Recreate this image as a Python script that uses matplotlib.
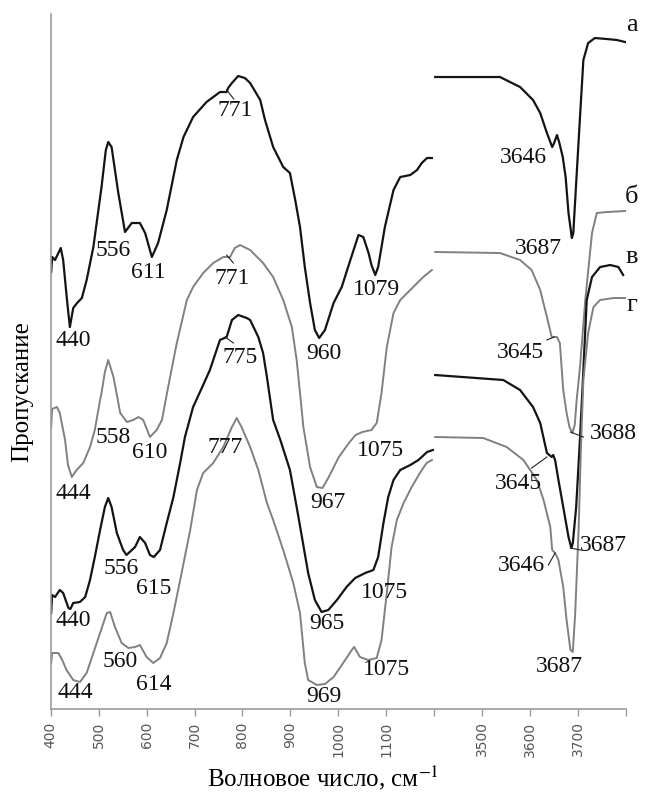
import matplotlib

matplotlib.use("Agg")
import matplotlib.pyplot as plt
import numpy as np

# IR transmission spectra of four samples (a..g), two ranges joined on one axis:
# 400-1200 cm^-1 and 3400-3800 cm^-1. Transmittance in arbitrary units, offset per curve.

# --- sample a (black) ---
A_LOW_WN = [401, 403, 409, 421, 426, 434, 440, 447, 455, 465, 475, 489, 506, 515, 520, 527,
            541, 555, 569, 586, 597, 611, 624, 642, 663, 677, 697, 725, 753, 767, 770, 778,
            791, 805, 816, 837, 847, 864, 885, 899, 910, 920, 930, 941, 951, 960, 972, 990,
            1007, 1025, 1042, 1052, 1063, 1069, 1077, 1083, 1097, 1115, 1129, 1150, 1164,
            1174, 1185, 1195]
A_LOW_T = [437, 452, 449, 461, 449, 409, 382, 401, 406, 411, 429, 462, 522, 559, 567, 562,
           516, 477, 486, 486, 476, 452, 466, 499, 549, 572, 592, 607, 617, 617, 621, 626,
           633, 631, 626, 609, 589, 562, 542, 536, 509, 482, 442, 406, 379, 371, 379, 406,
           422, 449, 474, 472, 456, 444, 434, 442, 482, 519, 532, 534, 539, 546, 551, 551]
A_HIGH_WN = [3402, 3537, 3579, 3606, 3621, 3635, 3646, 3650, 3656, 3661, 3668, 3674, 3680,
             3687, 3690, 3696, 3704, 3711, 3721, 3735, 3760, 3781, 3798]
A_HIGH_T = [632, 632, 622, 609, 596, 576, 562, 566, 574, 566, 552, 532, 496, 471, 476, 526,
            592, 649, 666, 671, 670, 669, 667]

# --- sample b (grey) ---
B_LOW_WN = [401, 403, 413, 419, 430, 436, 444, 454, 468, 482, 492, 503, 506, 513, 520, 531,
            545, 559, 572, 583, 593, 607, 621, 632, 645, 663, 684, 697, 718, 739, 760, 774,
            784, 795, 816, 843, 864, 885, 903, 913, 920, 927, 941, 955, 967, 980, 1001, 1022,
            1036, 1050, 1069, 1080, 1090, 1101, 1115, 1129, 1150, 1177, 1195]
B_LOW_T = [282, 300, 302, 296, 269, 244, 232, 239, 246, 262, 279, 309, 316, 337, 349, 332,
           296, 287, 289, 292, 289, 272, 279, 289, 322, 366, 409, 422, 436, 446, 452, 452,
           461, 464, 459, 446, 432, 409, 382, 349, 316, 282, 242, 222, 221, 232, 252, 266,
           274, 277, 279, 286, 316, 362, 396, 409, 419, 432, 439]
B_HIGH_WN = [3402, 3537, 3579, 3603, 3621, 3635, 3645, 3656, 3662, 3669, 3676, 3682, 3688,
             3693, 3697, 3704, 3715, 3729, 3739, 3760, 3798]
B_HIGH_T = [457, 456, 449, 439, 419, 392, 372, 372, 366, 319, 296, 282, 276, 284, 309, 342,
            409, 476, 496, 497, 498]

# --- sample v (black) ---
V_LOW_WN = [401, 403, 409, 419, 426, 437, 441, 447, 461, 472, 482, 492, 503, 513, 520, 527,
            538, 551, 558, 576, 586, 597, 607, 615, 628, 642, 656, 670, 680, 697, 718, 732,
            753, 767, 778, 791, 809, 816, 833, 843, 851, 857, 864, 879, 899, 913, 924, 937,
            951, 965, 979, 997, 1017, 1035, 1056, 1073, 1083, 1094, 1104, 1115, 1129, 1150,
            1167, 1185, 1197]
V_LOW_T = [96, 114, 112, 119, 116, 101, 100, 106, 107, 112, 129, 152, 179, 202, 211, 202,
           176, 159, 154, 162, 172, 166, 154, 152, 159, 186, 212, 246, 272, 302, 324, 339,
           369, 372, 389, 394, 391, 389, 372, 356, 332, 312, 289, 269, 239, 202, 172, 136,
           109, 97, 99, 109, 122, 131, 136, 139, 152, 186, 212, 229, 239, 244, 249, 257, 259]
V_HIGH_WN = [3402, 3544, 3579, 3606, 3621, 3635, 3645, 3648, 3652, 3659, 3669, 3680, 3686,
             3689, 3696, 3703, 3708, 3718, 3729, 3746, 3767, 3784, 3794]
V_HIGH_T = [334, 329, 319, 302, 286, 256, 252, 254, 249, 229, 202, 172, 161, 166, 202, 262,
            309, 409, 432, 442, 444, 442, 434]

# --- sample g (grey) ---
G_LOW_WN = [401, 403, 416, 424, 433, 447, 461, 475, 489, 503, 517, 524, 534, 548, 562, 576,
            586, 600, 614, 628, 642, 656, 673, 691, 705, 718, 739, 760, 778, 788, 798, 816,
            833, 851, 864, 885, 906, 920, 930, 937, 955, 972, 990, 1010, 1028, 1033, 1045,
            1062, 1080, 1090, 1101, 1111, 1122, 1136, 1153, 1170, 1184, 1195]
G_LOW_T = [46, 56, 56, 49, 39, 29, 27, 36, 56, 76, 96, 97, 82, 66, 61, 62, 64, 52, 46, 51,
           66, 96, 136, 179, 219, 236, 246, 262, 282, 291, 282, 262, 239, 206, 189, 159, 126,
           96, 46, 29, 24, 25, 32, 46, 59, 62, 52, 49, 51, 69, 116, 162, 189, 206, 222, 236,
           246, 249]
G_HIGH_WN = [3402, 3502, 3551, 3586, 3614, 3628, 3642, 3646, 3652, 3659, 3669, 3676, 3684,
             3689, 3694, 3701, 3706, 3711, 3721, 3732, 3746, 3774, 3798]
G_HIGH_T = [272, 271, 262, 249, 229, 209, 182, 159, 156, 149, 122, 89, 59, 57, 96, 179, 262,
            329, 376, 402, 409, 411, 411]

# peak positions written next to each curve, cm^-1
A_PEAKS = ["440", "556", "611", "771", "960", "1079", "3646", "3687"]
B_PEAKS = ["444", "558", "610", "771", "967", "1075", "3645", "3688"]
V_PEAKS = ["440", "556", "615", "775", "965", "1075", "3645", "3687"]
G_PEAKS = ["444", "560", "614", "777", "969", "1075", "3646", "3687"]
CURVE_NAMES = ["а", "б", "в", "г"]

TICK_POS = [400, 500, 600, 700, 800, 900, 1000, 1100, 1200, 1300, 1400, 1500, 1600]
TICK_TEXT = ["400", "500", "600", "700", "800", "900", "1000", "1100", "",
             "3500", "3600", "3700", ""]

BREAK_LO, BREAK_HI = 1200, 3400
BLACK, GREY = "#141414", "#808080"
SERIF = "Liberation Serif"


def to_axis(wn):
    """Map wavenumber to the joined axis: 3400..3800 is drawn right after 1200."""
    wn = np.asarray(wn, dtype=float)
    return np.where(wn > BREAK_LO, wn - (BREAK_HI - BREAK_LO), wn)


plt.rcParams["mathtext.fontset"] = "stix"
fig = plt.figure(figsize=(6.45, 7.92), dpi=100)
ax = fig.add_axes([0.0786, 0.1048, 0.892, 0.8775])

curves = [
    (A_LOW_WN, A_LOW_T, A_HIGH_WN, A_HIGH_T, BLACK, 1.6),
    (B_LOW_WN, B_LOW_T, B_HIGH_WN, B_HIGH_T, GREY, 1.4),
    (V_LOW_WN, V_LOW_T, V_HIGH_WN, V_HIGH_T, BLACK, 1.6),
    (G_LOW_WN, G_LOW_T, G_HIGH_WN, G_HIGH_T, GREY, 1.4),
]
for lo_wn, lo_t, hi_wn, hi_t, color, lw in curves:
    ax.plot(to_axis(lo_wn), lo_t, color=color, lw=lw, solid_joinstyle="round")
    ax.plot(to_axis(hi_wn), hi_t, color=color, lw=lw, solid_joinstyle="round")

# label anchors (axis x, transmittance) for the eight peaks of each curve
label_xy = [
    [(447, 369), (531, 459), (604, 437), (784, 599), (969, 356), (1080, 420),
     (1386, 552), (1417, 461)],
    [(447, 216), (531, 272), (607, 257), (778, 431), (979, 207), (1087, 259),
     (1379, 357), (1574, 276)],
    [(447, 89), (548, 141), (614, 121), (795, 352), (976, 86), (1097, 117),
     (1375, 226), (1553, 164)],
    [(451, 16), (545, 47), (614, 24), (764, 262), (969, 12), (1101, 39),
     (1382, 144), (1462, 42)],
]
for peaks, spots in zip([A_PEAKS, B_PEAKS, V_PEAKS, G_PEAKS], label_xy):
    for txt, (x, y) in zip(peaks, spots):
        ax.text(x, y, txt, ha="center", va="center", fontsize=17, family=SERIF,
                color="#111111")

# short leader strokes from a shoulder to its label
leaders = [
    ((767, 619), (782, 610)),
    ((767, 454), (781, 446)),
    ((764, 372), (781, 366)),
    ((1435, 369), (1450, 372)),
    ((1484, 277), (1511, 272)),
    ((1403, 241), (1435, 252)),
    ((1484, 161), (1505, 159)),
    ((1438, 144), (1452, 156)),
]
for (x0, y0), (x1, y1) in leaders:
    ax.plot([x0, x1], [y0, y1], color="#222222", lw=0.8)

for name, y in zip(CURVE_NAMES, [684, 512, 452, 404]):
    ax.text(1612, y, name, ha="center", va="center", fontsize=19, family=SERIF,
            color="#111111", clip_on=False)

ax.set_xlim(400, 1600)
ax.set_ylim(0, 695)
ax.set_xticks(TICK_POS)
ax.set_xticklabels(TICK_TEXT, rotation=90, fontsize=10, color="#555555")
ax.set_yticks([])
ax.tick_params(axis="x", direction="out", length=5, width=1.0, color="#9a9a9a", pad=4)
for side in ("top", "right"):
    ax.spines[side].set_visible(False)
for side in ("left", "bottom"):
    ax.spines[side].set_color("#9a9a9a")
    ax.spines[side].set_linewidth(1.2)

fig.text(323 / 645, 1 - 778 / 792, r"Волновое число, см$^{-1}$", ha="center",
         va="center", fontsize=18, family=SERIF)
fig.text(22 / 645, 1 - 392 / 792, "Пропускание", ha="center", va="center",
         rotation=90, fontsize=18, family=SERIF)

fig.savefig("out.png", dpi=100)
